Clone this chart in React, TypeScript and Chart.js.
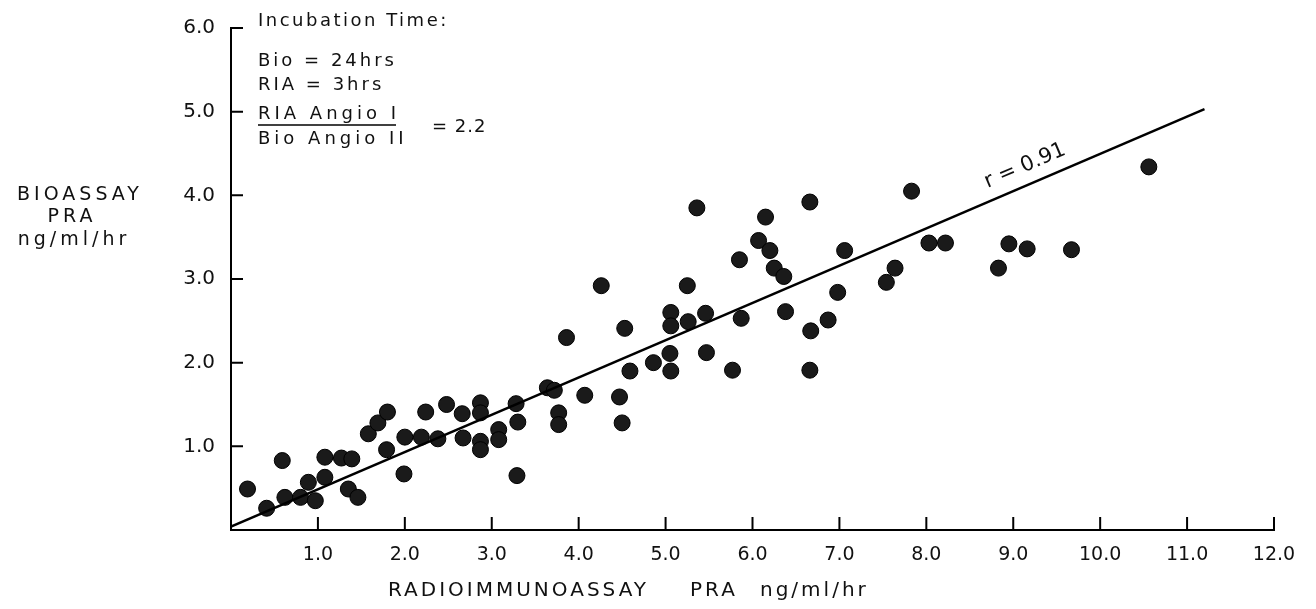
import React, { useEffect, useRef } from "react";
import { Chart, registerables } from "chart.js";

Chart.register(...registerables);

// Radioimmunoassay PRA (x) vs Bioassay PRA (y), ng/ml/hr
const riaValues = [
  0.19, 0.41, 0.59, 0.62, 0.80, 0.89, 0.97, 1.08, 1.08, 1.27,
  1.35, 1.39, 1.46, 1.58, 1.69, 1.79, 1.80, 1.99, 2.00, 2.19,
  2.24, 2.38, 2.48, 2.66, 2.67, 2.87, 2.87, 2.87, 2.87, 3.08,
  3.08, 3.28, 3.30, 3.29, 3.64, 3.72, 3.77, 3.77, 3.86, 4.07,
  4.26, 4.47, 4.50, 4.53, 4.59, 4.86, 5.05, 5.06, 5.06, 5.06,
  5.26, 5.25, 5.36, 5.46, 5.47, 5.77, 5.85, 5.87, 6.07, 6.15,
  6.20, 6.25, 6.36, 6.38, 6.66, 6.67, 6.66, 6.87, 6.98, 7.06,
  7.54, 7.64, 7.83, 8.03, 8.22, 8.83, 8.95, 9.16, 9.67, 10.56,
];
const bioValues = [
  0.49, 0.26, 0.83, 0.39, 0.39, 0.57, 0.35, 0.63, 0.87, 0.86,
  0.49, 0.85, 0.39, 1.15, 1.28, 0.96, 1.41, 0.67, 1.11, 1.11,
  1.41, 1.09, 1.50, 1.39, 1.10, 1.52, 1.40, 1.06, 0.96, 1.20,
  1.08, 1.51, 1.29, 0.65, 1.70, 1.67, 1.40, 1.26, 2.30, 1.61,
  2.92, 1.59, 1.28, 2.41, 1.90, 2.00, 2.11, 1.90, 2.60, 2.44,
  2.49, 2.92, 3.85, 2.59, 2.12, 1.91, 3.23, 2.53, 3.46, 3.74,
  3.34, 3.13, 3.03, 2.61, 3.92, 2.38, 1.91, 2.51, 2.84, 3.34,
  2.96, 3.13, 4.05, 3.43, 3.43, 3.13, 3.42, 3.36, 3.35, 4.34,
];

// Regression line end points
const fitX = [0, 11.2];
const fitY = [0.04, 5.03];

// Axis ticks
const xTickValues = [1, 2, 3, 4, 5, 6, 7, 8, 9, 10, 11, 12];
const yTickValues = [1, 2, 3, 4, 5, 6];

// Text
const xAxisTitle = ["RADIOIMMUNOASSAY", "PRA", "ng/ml/hr"];
const yAxisTitle = ["BIOASSAY", "PRA", "ng/ml/hr"];
const incubationLines = ["Incubation Time:", "Bio = 24hrs", "RIA = 3hrs"];
const ratioNumerator = "RIA Angio I";
const ratioDenominator = "Bio Angio II";
const ratioValue = "= 2.2";
const rLabel = "r = 0.91";

const FONT = '"DejaVu Sans", sans-serif';

const annotationPlugin = {
  id: "annotations",
  afterDraw(chart: any) {
    const { ctx, scales } = chart;
    const x = scales.x;
    const y = scales.y;
    ctx.save();
    // inward tick marks
    ctx.strokeStyle = "#000";
    ctx.lineWidth = 2;
    ctx.beginPath();
    xTickValues.forEach((v) => {
      const px = x.getPixelForValue(v);
      ctx.moveTo(px, y.bottom);
      ctx.lineTo(px, y.bottom - 13);
    });
    yTickValues.forEach((v) => {
      const py = y.getPixelForValue(v);
      ctx.moveTo(x.left, py);
      ctx.lineTo(x.left + 12, py);
    });
    ctx.stroke();

    ctx.fillStyle = "#111";
    ctx.textBaseline = "middle";
    ctx.textAlign = "left";
    ctx.font = `18px ${FONT}`;
    (ctx as any).letterSpacing = "2.5px";
    ctx.fillText(incubationLines[0], 258, 21);
    (ctx as any).letterSpacing = "3px";
    ctx.fillText(incubationLines[1], 258, 61);
    ctx.fillText(incubationLines[2], 258, 85);
    (ctx as any).letterSpacing = "4px";
    ctx.fillText(ratioNumerator, 258, 114);
    const w = ctx.measureText(ratioNumerator).width;
    ctx.beginPath();
    ctx.lineWidth = 1.5;
    ctx.moveTo(258, 125);
    ctx.lineTo(258 + w - 4, 125);
    ctx.stroke();
    ctx.fillText(ratioDenominator, 258, 139);
    (ctx as any).letterSpacing = "1px";
    ctx.fillText(ratioValue, 432, 127);

    // y axis title
    ctx.textAlign = "center";
    ctx.font = `19px ${FONT}`;
    (ctx as any).letterSpacing = "4px";
    ctx.fillText(yAxisTitle[0], 80, 195);
    ctx.fillText(yAxisTitle[1], 72, 217);
    ctx.fillText(yAxisTitle[2], 74, 240);

    // x axis title
    ctx.textAlign = "left";
    ctx.font = `20px ${FONT}`;
    (ctx as any).letterSpacing = "3px";
    ctx.fillText(xAxisTitle[0], 388, 591);
    ctx.fillText(xAxisTitle[1], 690, 591);
    ctx.fillText(xAxisTitle[2], 760, 591);

    // r label along the fit line
    ctx.save();
    ctx.translate(1025, 166);
    ctx.rotate((-23 * Math.PI) / 180);
    ctx.textAlign = "center";
    (ctx as any).letterSpacing = "0px";
    ctx.font = `21px ${FONT}`;
    ctx.fillText(rLabel, 0, 0);
    ctx.restore();

    ctx.restore();
  },
};

export default function App() {
  const canvasRef = useRef<HTMLCanvasElement | null>(null);

  useEffect(() => {
    document.body.style.margin = "0";
    const canvas = canvasRef.current;
    if (!canvas) return;
    const points = riaValues.map((v, i) => ({ x: v, y: bioValues[i] }));
    const line = fitX.map((v, i) => ({ x: v, y: fitY[i] }));
    const chart = new Chart(canvas, {
      type: "scatter",
      data: {
        datasets: [
          {
            type: "line",
            data: line,
            borderColor: "#000",
            borderWidth: 2.5,
            pointRadius: 0,
            fill: false,
          },
          {
            type: "scatter",
            data: points,
            pointRadius: 8,
            pointBackgroundColor: "#1a1a1a",
            pointBorderColor: "#000",
            pointBorderWidth: 1,
          },
        ],
      },
      options: {
        responsive: false,
        animation: false,
        plugins: { legend: { display: false }, tooltip: { enabled: false } },
        layout: { padding: { top: 22, right: 42, left: 0, bottom: 0 } },
        scales: {
          x: {
            type: "linear",
            min: 0,
            max: 12,
            grid: { display: false, drawTicks: false },
            border: { display: true, color: "#000", width: 2 },
            ticks: {
              stepSize: 1,
              padding: 14,
              color: "#111",
              font: { family: FONT, size: 19 },
              maxRotation: 0,
              callback: (v: any) => (Number(v) === 0 ? "" : Number(v).toFixed(1)),
            },
            afterFit: (scale: any) => {
              scale.height = 79;
            },
          },
          y: {
            type: "linear",
            min: 0,
            max: 6,
            grid: { display: false, drawTicks: false },
            border: { display: true, color: "#000", width: 2 },
            ticks: {
              stepSize: 1,
              padding: 16,
              color: "#111",
              font: { family: FONT, size: 20 },
              callback: (v: any) => (Number(v) === 0 ? "" : Number(v).toFixed(1)),
            },
            afterFit: (scale: any) => {
              scale.width = 231;
            },
          },
        },
      },
      plugins: [annotationPlugin],
    });
    return () => chart.destroy();
  }, []);

  return (
    <div style={{ width: 1316, height: 609, overflow: "hidden", background: "#fff" }}>
      <canvas ref={canvasRef} width={1316} height={609} style={{ display: "block" }} />
    </div>
  );
}
